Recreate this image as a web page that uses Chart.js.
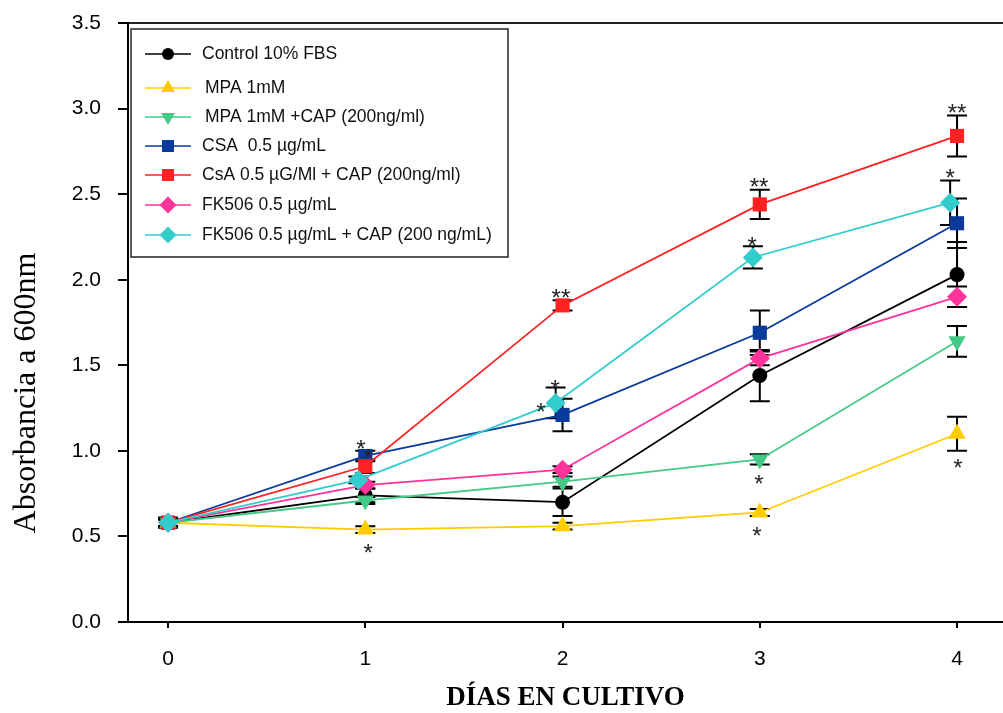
<!DOCTYPE html>
<html>
<head>
<meta charset="utf-8">
<script src="https://cdn.jsdelivr.net/npm/chart.js@4.4.0/dist/chart.umd.min.js"></script>
<style>
  body { margin: 0; background: #fff; overflow: hidden; }
  #wrap { width: 1003px; height: 713px; }
  canvas { display: block; }
</style>
</head>
<body>
<div id="wrap"><canvas id="growthChart" width="1003" height="713"></canvas></div>
<script>
// days in culture (FK506 + CAP points sit a little left of the others in the figure)
const days = [0, 1, 2, 3, 4];
const fkCapDays = [0, 0.965, 1.965, 2.965, 3.965];
const yTicks = [0, 0.5, 1.0, 1.5, 2.0, 2.5, 3.0, 3.5];

const seriesNames = [
  "Control 10% FBS",
  "MPA 1mM",
  "MPA 1mM +CAP (200ng/ml)",
  "CSA  0.5 µg/mL",
  "CsA 0.5 µG/Ml + CAP (200ng/ml)",
  "FK506 0.5 µg/mL",
  "FK506 0.5 µg/mL + CAP (200 ng/mL)"
];

// mean absorbance and error (±)
const control    = [0.58, 0.74, 0.70, 1.44, 2.03];
const controlErr = [0.03, 0.04, 0.08, 0.15, 0.19];
const mpa        = [0.58, 0.54, 0.56, 0.64, 1.10];
const mpaErr     = [0.02, 0.02, 0.02, 0.02, 0.10];
const mpaCap     = [0.58, 0.71, 0.82, 0.95, 1.64];
const mpaCapErr  = [0.02, 0.02, 0.03, 0.03, 0.09];
const csa        = [0.58, 0.97, 1.21, 1.69, 2.33];
const csaErr     = [0.02, 0.03, 0.095, 0.13, 0.145];
const csaCap     = [0.58, 0.91, 1.85, 2.44, 2.84];
const csaCapErr  = [0.02, 0.04, 0.03, 0.085, 0.12];
const fk         = [0.58, 0.80, 0.89, 1.54, 1.90];
const fkErr      = [0.02, 0.02, 0.02, 0.04, 0.06];
const fkCap      = [0.58, 0.83, 1.28, 2.13, 2.45];
const fkCapErr   = [0.02, 0.02, 0.09, 0.065, 0.13];

// significance marks
const starX    = [0.978, 1.014, 1.014, 1.992, 1.962, 1.891, 2.996, 2.961, 2.996, 2.986, 4.0, 3.965, 4.005];
const starY    = [1.044, 0.992, 0.438, 1.925, 1.394, 1.26, 2.573, 2.229, 0.84, 0.537, 3.005, 2.625, 0.933];
const starText = ["*", "*", "*", "**", "*", "*", "**", "*", "*", "*", "**", "*", "*"];

const series = [
  { y: control, err: controlErr, x: days, color: "#000000", style: "circle", r: 7.5, rot: 0 },
  { y: mpa, err: mpaErr, x: days, color: "#FFCC00", style: "triangle", r: 10, rot: 0 },
  { y: mpaCap, err: mpaCapErr, x: days, color: "#45C987", style: "triangle", r: 10, rot: 180 },
  { y: csa, err: csaErr, x: days, color: "#0A3A9C", style: "rect", r: 10, rot: 0 },
  { y: csaCap, err: csaCapErr, x: days, color: "#FF2222", style: "rect", r: 10, rot: 0 },
  { y: fk, err: fkErr, x: days, color: "#FF3399", style: "rectRot", r: 10, rot: 0 },
  { y: fkCap, err: fkCapErr, x: fkCapDays, color: "#33CCCC", style: "rectRot", r: 10, rot: 0 }
];

const datasets = series.map((s, i) => ({
  label: seriesNames[i],
  data: s.y.map((v, j) => ({ x: s.x[j], y: v })),
  errors: s.err,
  borderColor: s.color,
  backgroundColor: s.color,
  borderWidth: 1.8,
  tension: 0,
  pointStyle: s.style,
  pointRadius: s.r,
  pointRotation: s.rot,
  pointBorderWidth: 0,
  pointBackgroundColor: s.color,
  order: 6 - i
}));

const errorBars = {
  id: "errorBars",
  beforeDatasetsDraw(chart) {
    const ctx = chart.ctx;
    const yScale = chart.scales.y;
    ctx.save();
    ctx.strokeStyle = "#000";
    ctx.lineWidth = 2;
    chart.data.datasets.forEach((ds, i) => {
      const meta = chart.getDatasetMeta(i);
      meta.data.forEach((pt, j) => {
        const v = ds.data[j].y, e = ds.errors[j];
        const top = yScale.getPixelForValue(v + e);
        const bot = yScale.getPixelForValue(v - e);
        ctx.beginPath();
        ctx.moveTo(pt.x, top); ctx.lineTo(pt.x, bot);
        ctx.moveTo(pt.x - 10, top); ctx.lineTo(pt.x + 10, top);
        ctx.moveTo(pt.x - 10, bot); ctx.lineTo(pt.x + 10, bot);
        ctx.stroke();
      });
    });
    ctx.restore();
  }
};

const extras = {
  id: "extras",
  afterDatasetsDraw(chart) {
    const ctx = chart.ctx;
    const xs = chart.scales.x, ys = chart.scales.y;
    ctx.save();

    // asterisks
    ctx.fillStyle = "#222";
    ctx.font = "24px 'Liberation Sans', Arial";
    ctx.textAlign = "center";
    ctx.textBaseline = "alphabetic";
    starText.forEach((t, i) => {
      ctx.fillText(t, xs.getPixelForValue(starX[i]), ys.getPixelForValue(starY[i]) + 13.5);
    });

    // legend box
    ctx.fillStyle = "#fff";
    ctx.fillRect(131, 29, 377, 228);
    ctx.strokeStyle = "#222";
    ctx.lineWidth = 1.5;
    ctx.strokeRect(131, 29, 377, 228);
    const rowY = [54, 88, 117, 146, 175, 205, 235];
    const legR = [6, 8, 8, 8.5, 8.5, 8.5, 8.5];
    ctx.font = "17.5px 'Liberation Sans', Arial";
    ctx.textAlign = "left";
    ctx.textBaseline = "middle";
    series.forEach((s, i) => {
      ctx.strokeStyle = s.color;
      ctx.lineWidth = 1.5;
      ctx.beginPath();
      ctx.moveTo(145, rowY[i]); ctx.lineTo(191, rowY[i]);
      ctx.stroke();
      ctx.fillStyle = s.color;
      Chart.helpers.drawPoint(ctx, { pointStyle: s.style, radius: legR[i], rotation: s.rot, borderWidth: 0 }, 168, rowY[i]);
      ctx.fillStyle = "#111";
      ctx.fillText(seriesNames[i], (i === 1 || i === 2) ? 205 : 202, rowY[i]);
    });

    // y axis title
    ctx.translate(27, 393);
    ctx.rotate(-Math.PI / 2);
    ctx.fillStyle = "#000";
    ctx.font = "32px 'Liberation Serif', 'Times New Roman'";
    ctx.textAlign = "center";
    ctx.textBaseline = "middle";
    ctx.fillText("Absorbancia a 600nm", 0, 0);
    ctx.restore();
  }
};

new Chart(document.getElementById("growthChart"), {
  type: "line",
  data: { datasets },
  options: {
    responsive: false,
    animation: false,
    layout: { autoPadding: false, padding: { top: 23, right: 0, left: 0, bottom: 0 } },
    plugins: { legend: { display: false }, tooltip: { enabled: false } },
    scales: {
      x: {
        type: "linear",
        min: -0.203,
        max: 4.233,
        afterBuildTicks: s => { s.ticks = days.map(v => ({ value: v })); },
        afterFit: s => { s.height = 91; s.paddingLeft = 0; s.paddingRight = 0; },
        grid: { drawOnChartArea: false, drawTicks: true, tickLength: 6, color: "#000", lineWidth: 2 },
        border: { display: true, color: "#000", width: 2 },
        ticks: { padding: 19, color: "#000", font: { family: "'Liberation Sans', Arial", size: 21 }, callback: v => v },
        title: {
          display: true, text: "DÍAS EN CULTIVO", color: "#000",
          font: { family: "'Liberation Serif', 'Times New Roman'", size: 27, weight: "bold", lineHeight: 1 },
          padding: { top: 0, bottom: 1 }
        }
      },
      xTop: {
        type: "linear",
        position: "top",
        min: -0.203,
        max: 4.233,
        afterBuildTicks: s => { s.ticks = days.map(v => ({ value: v })); },
        afterFit: s => { s.height = 0; s.paddingLeft = 0; s.paddingRight = 0; },
        grid: { display: false },
        ticks: { display: false, padding: 0 },
        border: { display: true, color: "#222", width: 2 }
      },
      y: {
        min: 0,
        max: 3.5,
        afterBuildTicks: s => { s.ticks = yTicks.map(v => ({ value: v })); },
        afterFit: s => { s.width = 128; s.paddingTop = 0; s.paddingBottom = 0; },
        grid: { drawOnChartArea: false, drawTicks: true, tickLength: 10, color: "#000", lineWidth: 2 },
        border: { display: true, color: "#000", width: 2 },
        ticks: { padding: 17, color: "#000", font: { family: "'Liberation Sans', Arial", size: 21 }, callback: v => v.toFixed(1) }
      }
    }
  },
  plugins: [errorBars, extras]
});
</script>
</body>
</html>
